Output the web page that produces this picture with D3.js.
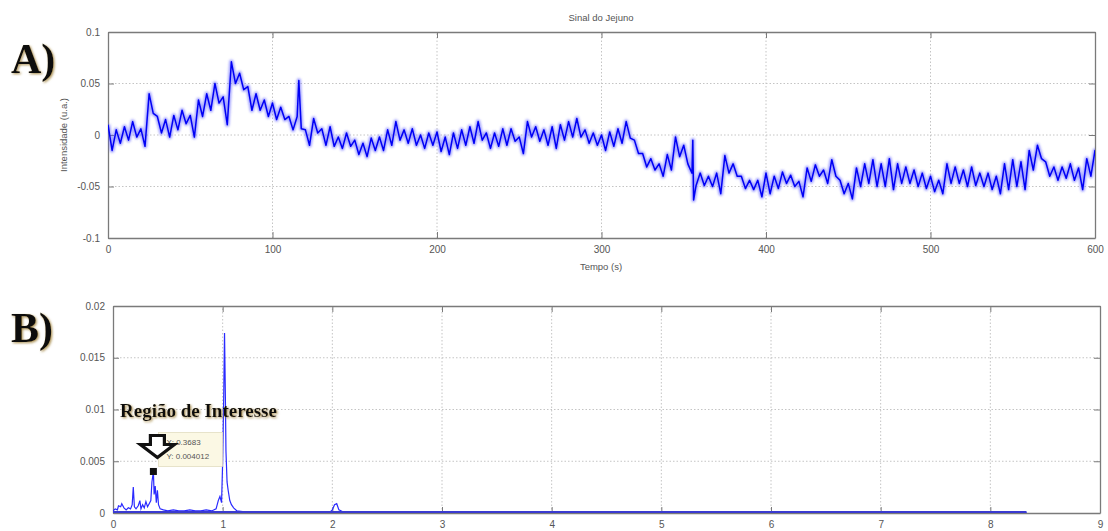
<!DOCTYPE html>
<html>
<head>
<meta charset="utf-8">
<script src="https://cdn.jsdelivr.net/npm/d3@7"></script>
<style>
  body { margin: 0; background: #fff; }
  svg { display: block; }
  .tick text { font-family: "Liberation Sans", Arial, sans-serif; font-size: 10px; fill: #555; }
  .axis path, .axis line { stroke: #7a7a7a; }
  .grid line { stroke: #c4c4c4; stroke-dasharray: 1.5,2; }
  .lbl { font-family: "Liberation Sans", Arial, sans-serif; font-size: 9.5px; fill: #555; }
  .big { font-family: "Liberation Serif", "Times New Roman", serif; font-weight: bold; fill: #111; }
</style>
</head>
<body>
<svg width="1108" height="531"></svg>
<script>
// **** Data ****

// panel A: signal envelope every 5 s, 0..600 s (upper / lower edge of the noisy band)
var sigStep = 5;
var sigHi = [0.010, 0.005, 0.008, 0.013, 0.006, 0.040, 0.018, 0.015, 0.019, 0.024,
  0.019, 0.034, 0.040, 0.050, 0.037, 0.071, 0.060, 0.047, 0.040, 0.034,
  0.031, 0.027, 0.018, 0.018, 0.005, 0.016, 0.006, 0.008, -0.002, 0.002,
  -0.005, -0.008, -0.003, -0.002, 0.005, 0.013, 0.005, 0.006, 0.000, 0.002,
  0.003, -0.002, 0.002, 0.005, 0.008, 0.013, 0.002, 0.002, 0.006, 0.006,
  -0.002, 0.013, 0.008, 0.005, 0.008, 0.010, 0.013, 0.016, 0.005, 0.002,
  0.000, 0.003, 0.006, 0.013, -0.005, -0.018, -0.023, -0.028, -0.019, -0.002,
  -0.010, -0.037, -0.037, -0.040, -0.037, -0.020, -0.028, -0.040, -0.044, -0.044,
  -0.037, -0.040, -0.036, -0.039, -0.045, -0.032, -0.029, -0.034, -0.024, -0.044,
  -0.047, -0.032, -0.028, -0.024, -0.028, -0.023, -0.028, -0.031, -0.034, -0.037,
  -0.040, -0.044, -0.028, -0.031, -0.034, -0.031, -0.037, -0.037, -0.040, -0.028,
  -0.024, -0.026, -0.015, -0.010, -0.026, -0.031, -0.031, -0.028, -0.032, -0.023,
  -0.015];
var sigLo = [-0.015, -0.008, -0.005, -0.002, -0.011, 0.021, 0.002, -0.002, 0.005, 0.011,
  -0.002, 0.018, 0.024, 0.031, 0.010, 0.050, 0.044, 0.024, 0.024, 0.018,
  0.015, 0.015, 0.005, 0.006, -0.010, 0.002, -0.010, -0.011, -0.013, -0.011,
  -0.019, -0.021, -0.015, -0.015, -0.010, -0.005, -0.008, -0.010, -0.013, -0.010,
  -0.016, -0.019, -0.013, -0.010, -0.008, -0.005, -0.013, -0.011, -0.010, -0.006,
  -0.018, -0.002, -0.006, -0.010, -0.013, -0.005, -0.002, -0.002, -0.008, -0.010,
  -0.015, -0.011, -0.008, -0.003, -0.018, -0.031, -0.034, -0.040, -0.034, -0.021,
  -0.028, -0.049, -0.049, -0.050, -0.057, -0.037, -0.040, -0.052, -0.053, -0.060,
  -0.057, -0.052, -0.047, -0.050, -0.060, -0.045, -0.040, -0.047, -0.040, -0.057,
  -0.062, -0.050, -0.047, -0.050, -0.050, -0.053, -0.047, -0.047, -0.050, -0.052,
  -0.055, -0.057, -0.047, -0.047, -0.050, -0.049, -0.050, -0.053, -0.057, -0.053,
  -0.050, -0.053, -0.034, -0.023, -0.040, -0.044, -0.042, -0.044, -0.053, -0.040,
  -0.034];
// isolated spikes in the signal
var spikeT = [116, 355.5, 356];
var spikeV = [0.053, -0.005, -0.063];

var sigXTicks = [0, 100, 200, 300, 400, 500, 600];
var sigYTicks = [-0.1, -0.05, 0, 0.05, 0.1];

// panel B: amplitude spectrum
var freq = [0, 0.02, 0.04, 0.05, 0.07, 0.08, 0.10, 0.12, 0.14, 0.16,
  0.175, 0.185, 0.195, 0.21, 0.23, 0.245, 0.255, 0.27, 0.285, 0.30,
  0.315, 0.33, 0.345, 0.355, 0.3683, 0.375, 0.385, 0.395, 0.405, 0.415,
  0.43, 0.46, 0.50, 0.55, 0.60, 0.65, 0.70, 0.75, 0.80, 0.85,
  0.90, 0.94, 0.96, 0.975, 0.99, 1.00, 1.01, 1.017, 1.025, 1.03,
  1.04, 1.05, 1.065, 1.08, 1.10, 1.13, 1.2, 1.5, 1.98, 2.0,
  2.02, 2.04, 2.06, 2.1, 3.0, 5.0, 8.33];
var amp = [0.0002, 0.0004, 0.0003, 0.0007, 0.0006, 0.0009, 0.0005, 0.0003, 0.0005, 0.0004,
  0.0008, 0.0025, 0.0006, 0.0004, 0.0007, 0.0012, 0.0004, 0.0008, 0.0005, 0.0011,
  0.0006, 0.0009, 0.0012, 0.0030, 0.0040, 0.0018, 0.0026, 0.0010, 0.0022, 0.0008,
  0.0004, 0.0003, 0.0002, 0.0003, 0.0002, 0.0002, 0.0003, 0.0002, 0.0002, 0.0003,
  0.0002, 0.0004, 0.0012, 0.0016, 0.0010, 0.0050, 0.0115, 0.0174, 0.0110, 0.0060,
  0.0030, 0.0022, 0.0012, 0.0008, 0.0005, 0.0002, 0.0001, 0.00005, 0.0001, 0.0003,
  0.0008, 0.0009, 0.0003, 0.0001, 0.00005, 0.00005, 0.00005];
var tipX = 0.3683, tipY = 0.004012;

var specXTicks = [0, 1, 2, 3, 4, 5, 6, 7, 8, 9];
var specYTicks = [0, 0.005, 0.01, 0.015, 0.02];

// **** Scales ****
var svg = d3.select('svg');

var tScale = d3.scaleLinear().domain([0, 600]).range([108, 1095]);
var sScale = d3.scaleLinear().domain([-0.1, 0.1]).range([238, 32]);
var fScale = d3.scaleLinear().domain([0, 9]).range([113, 1100]);
var aScale = d3.scaleLinear().domain([0, 0.02]).range([513, 306]);

var fmt = function (d) { return String(+d.toFixed(4)); };

var defs = svg.append('defs');
var sh = defs.append('filter').attr('id', 'shadow').attr('x', '-20%').attr('y', '-20%')
  .attr('width', '140%').attr('height', '140%');
sh.append('feDropShadow').attr('dx', 1.2).attr('dy', 1.2).attr('stdDeviation', 0.8)
  .attr('flood-color', '#9a7a30').attr('flood-opacity', 0.8);
defs.append('filter').attr('id', 'soft')
  .append('feGaussianBlur').attr('stdDeviation', 0.9);

function panel(x, y, xt, yt, id) {
  var g = svg.append('g');
  var x0 = x.range()[0], x1 = x.range()[1], y0 = y.range()[0], y1 = y.range()[1];

  // grid
  g.append('g').attr('class', 'grid').selectAll('line')
    .data(xt.slice(1, -1)).enter().append('line')
    .attr('x1', function (d) { return x(d); }).attr('x2', function (d) { return x(d); })
    .attr('y1', y0).attr('y2', y1);
  g.append('g').attr('class', 'grid').selectAll('line')
    .data(yt.slice(1, -1)).enter().append('line')
    .attr('y1', function (d) { return y(d); }).attr('y2', function (d) { return y(d); })
    .attr('x1', x0).attr('x2', x1);

  defs.append('clipPath').attr('id', id).append('rect')
    .attr('x', x0).attr('y', y1).attr('width', x1 - x0).attr('height', y0 - y1);

  // axes, ticks pointing inward on all four sides
  g.append('g').attr('class', 'axis').attr('transform', 'translate(0,' + y0 + ')')
    .call(d3.axisBottom(x).tickValues(xt).tickSize(-6).tickSizeOuter(0).tickPadding(8).tickFormat(fmt));
  g.append('g').attr('class', 'axis').attr('transform', 'translate(0,' + y1 + ')')
    .call(d3.axisTop(x).tickValues(xt).tickSize(-6).tickSizeOuter(0).tickFormat(''));
  g.append('g').attr('class', 'axis').attr('transform', 'translate(' + x0 + ',0)')
    .call(d3.axisLeft(y).tickValues(yt).tickSize(-6).tickSizeOuter(0).tickPadding(8).tickFormat(fmt));
  g.append('g').attr('class', 'axis').attr('transform', 'translate(' + x1 + ',0)')
    .call(d3.axisRight(y).tickValues(yt).tickSize(-6).tickSizeOuter(0).tickFormat(''));
  g.selectAll('.axis path').attr('stroke-width', 1.3);
  return g;
}

// **** Panel A ****
var gA = panel(tScale, sScale, sigXTicks, sigYTicks, 'clipA');

var pts = [];
sigHi.forEach(function (v, i) {
  pts.push([i * sigStep, v]);
  pts.push([i * sigStep + sigStep / 2, sigLo[i]]);
});
spikeT.forEach(function (t, i) { pts.push([t, spikeV[i]]); });
pts.sort(function (a, b) { return a[0] - b[0]; });

var sigLine = d3.line().x(function (d) { return tScale(d[0]); }).y(function (d) { return sScale(d[1]); });

// soft halo under the noisy trace
gA.append('path')
  .datum(pts)
  .attr('clip-path', 'url(#clipA)')
  .attr('fill', 'none')
  .attr('stroke', '#5c5cff').attr('stroke-opacity', 0.55)
  .attr('stroke-width', 4.5)
  .attr('stroke-linejoin', 'round')
  .attr('filter', 'url(#soft)')
  .attr('d', sigLine);

gA.append('path')
  .datum(pts)
  .attr('clip-path', 'url(#clipA)')
  .attr('fill', 'none')
  .attr('stroke', '#0000f5')
  .attr('stroke-width', 1.5)
  .attr('stroke-linejoin', 'round')
  .attr('d', sigLine);

svg.append('text').attr('class', 'lbl')
  .attr('x', 601).attr('y', 21).attr('text-anchor', 'middle')
  .text('Sinal do Jejuno');
svg.append('text').attr('class', 'lbl')
  .attr('x', 601).attr('y', 270).attr('text-anchor', 'middle')
  .text('Tempo (s)');
svg.append('text').attr('class', 'lbl')
  .attr('transform', 'translate(67,135) rotate(-90)').attr('text-anchor', 'middle')
  .text('Intensidade (u.a.)');

svg.append('text').attr('class', 'big')
  .attr('x', 11).attr('y', 73).style('font-size', '42px')
  .attr('filter', 'url(#shadow)')
  .text('A)');

// **** Panel B ****
var gB = panel(fScale, aScale, specXTicks, specYTicks, 'clipB');

gB.append('path')
  .datum(freq.map(function (f, i) { return [f, amp[i]]; }))
  .attr('clip-path', 'url(#clipB)')
  .attr('fill', 'none')
  .attr('stroke', '#2a2aff')
  .attr('stroke-width', 1.2)
  .attr('d', d3.line().x(function (d) { return fScale(d[0]); }).y(function (d) { return aScale(d[1]); }));
// thick baseline of the spectrum (dense low-amplitude part)
gB.append('line')
  .attr('x1', fScale(freq[0])).attr('x2', fScale(freq[freq.length - 1]))
  .attr('y1', aScale(0) - 1).attr('y2', aScale(0) - 1)
  .attr('stroke', '#3a3ad0').attr('stroke-width', 2);

svg.append('text').attr('class', 'big')
  .attr('x', 11).attr('y', 342).style('font-size', '42px')
  .attr('filter', 'url(#shadow)')
  .text('B)');

// datatip
var tx = fScale(tipX), ty = aScale(tipY);
svg.append('rect')
  .attr('x', tx + 5).attr('y', ty - 39).attr('width', 64).attr('height', 34)
  .attr('fill', '#fbf8e4').attr('stroke', '#e2dcc0').attr('stroke-width', 0.8);
svg.append('text').attr('class', 'lbl').style('font-size', '8px')
  .attr('x', tx + 13).attr('y', ty - 26).text('X: ' + tipX);
svg.append('text').attr('class', 'lbl').style('font-size', '8px')
  .attr('x', tx + 13).attr('y', ty - 12).text('Y: ' + tipY);
svg.append('rect')
  .attr('x', tx - 3.5).attr('y', ty - 3.5).attr('width', 7).attr('height', 7)
  .attr('fill', '#111');

// down arrow over the datatip
var ax = tx + 4, ay = ty - 36;
svg.append('path')
  .attr('d', 'M' + (ax - 7) + ',' + ay + 'h14v9h10l-17,13l-17,-13h10z')
  .attr('fill', '#fff').attr('stroke', '#111').attr('stroke-width', 3.2)
  .attr('stroke-linejoin', 'miter');

svg.append('text').attr('class', 'big')
  .attr('x', 120).attr('y', 417).style('font-size', '19px')
  .attr('filter', 'url(#shadow)')
  .text('Região de Interesse');
</script>
</body>
</html>
